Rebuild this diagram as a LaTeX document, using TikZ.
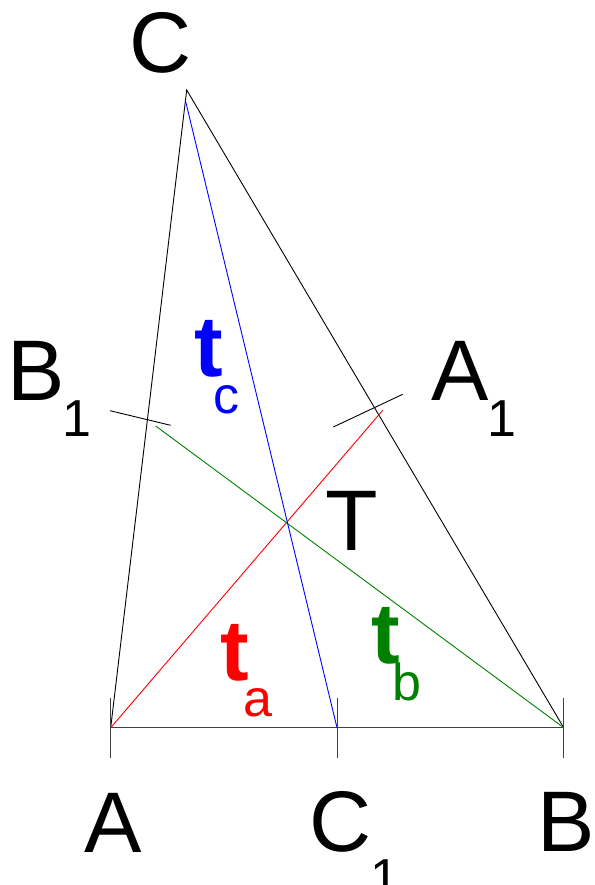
\documentclass[tikz,border=0pt]{standalone}
\usepackage{fontspec}
\setmainfont{Liberation Sans}
\definecolor{medgreen}{RGB}{0,128,0}
\newcommand{\msub}[3]{\textbf{t}\kern#2pt\raisebox{-#3pt}{\fontsize{52}{52}\selectfont\mdseries #1}}
\begin{document}
\begin{tikzpicture}[x=1pt,y=-1pt,line width=0.9pt,
  big/.style={anchor=base west,inner sep=0pt,font=\fontsize{86}{86}\selectfont},
  small/.style={anchor=base west,inner sep=0pt,font=\fontsize{52}{52}\selectfont},
  tick/.style={draw=black!75,line width=0.9pt}]
\useasboundingbox (0,0) rectangle (594,885);
% vertices
\coordinate (A) at (110.7,727.7);
\coordinate (B) at (563.7,727.7);
\coordinate (C) at (186.7,90);
\coordinate (C1) at (337,727.7);
\coordinate (A1) at (382.7,410.3);
\coordinate (B1) at (155.7,426);
\coordinate (Cs) at (185.4,100.5);
% tick ends
\coordinate (tA1) at (110.7,698); \coordinate (tA2) at (110.7,758);
\coordinate (tC1) at (337,698);   \coordinate (tC2) at (337,758);
\coordinate (tB1) at (563.7,698); \coordinate (tB2) at (563.7,758);
\coordinate (tb1) at (110,410.7); \coordinate (tb2) at (170.7,425.3);
\coordinate (ta1) at (333.3,427); \coordinate (ta2) at (402.7,394.3);
% triangle
\draw[black] (A) -- (C) -- (B);
\draw[black!75] (A) -- (B);
% medians
\draw[red] (A) -- (A1);
\draw[medgreen] (B1) -- (B);
\draw[blue] (Cs) -- (C1);
% ticks
\draw[tick] (tA1) -- (tA2);
\draw[tick] (tC1) -- (tC2);
\draw[tick] (tB1) -- (tB2);
\draw[black] (tb1) -- (tb2);
\draw[black] (ta1) -- (ta2);
% labels
\node[big] (lC) at (128.6,73) {C};
\node[big] (lA) at (84,852) {A};
\node[big] (lB) at (537,851) {B};
\node[big] (lC1) at (308.6,851) {C};
\node[small] (lC1s) at (370,895) {1};
\node[big] (lB1) at (7,400) {B};
\node[small] (lB1s) at (62,436) {1};
\node[big] (lA1) at (431,400) {A};
\node[small] (lA1s) at (487,436) {1};
\node[big] (lT) at (325,550) {T};
\node[big,text=blue] (ltc) at (194,376) {\msub{c}{-9.6}{37}};
\node[big,text=red] (lta) at (220,680) {\msub{a}{-5.6}{36}};
\node[big,text=medgreen] (ltb) at (371,663) {\msub{b}{-7.6}{37}};
\end{tikzpicture}
\end{document}
